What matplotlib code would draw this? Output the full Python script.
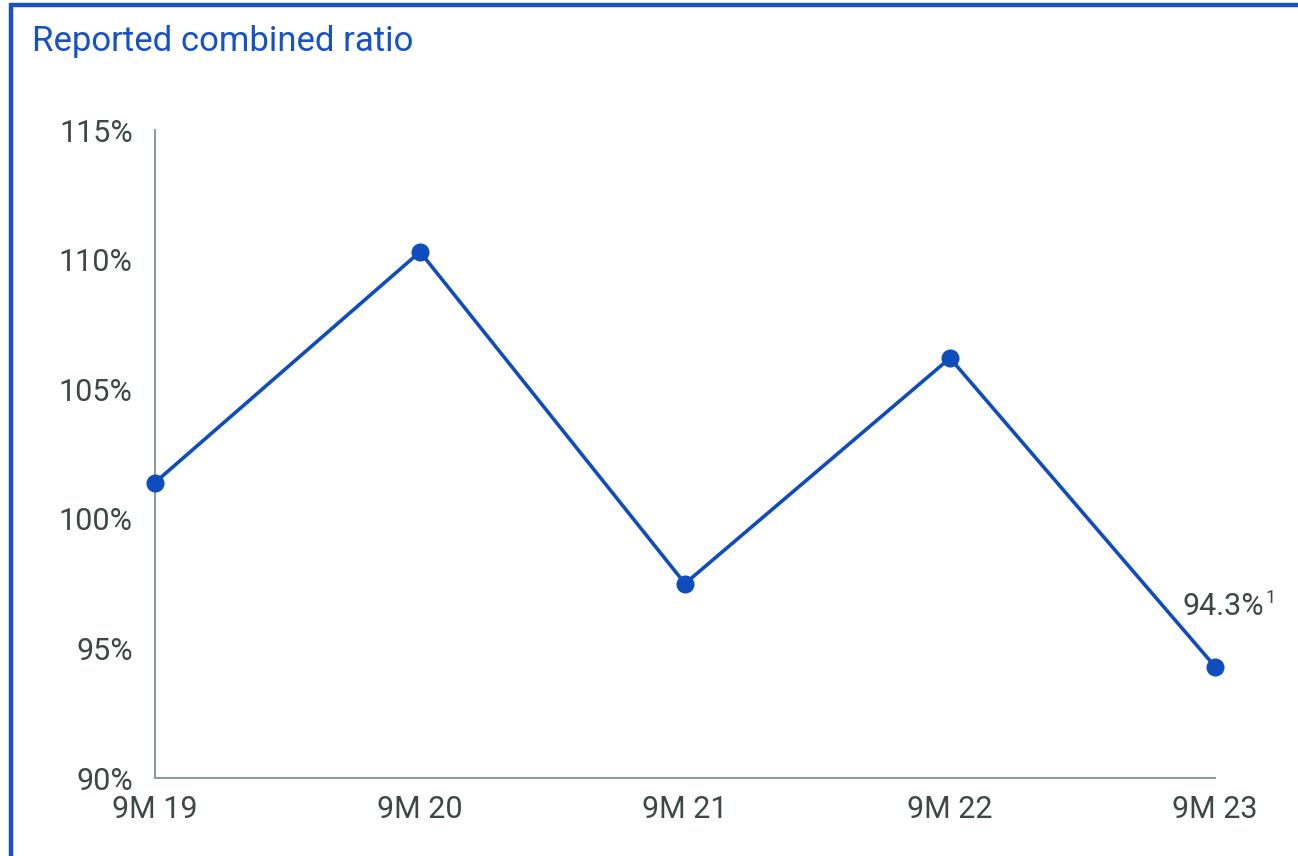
import matplotlib.pyplot as plt
from matplotlib.lines import Line2D

periods = ['9M 19', '9M 20', '9M 21', '9M 22', '9M 23']
combined_ratio = [101.4, 110.3, 97.5, 106.2, 94.3]
yticks = [90, 95, 100, 105, 110, 115]

blue = '#0f4dbc'
frame_blue = '#1752c4'
grey_text = '#3b4843'
axis_grey = '#8d9d98'

plt.rcParams['font.family'] = ['Roboto', 'DejaVu Sans']

fig = plt.figure(figsize=(12.98, 8.56), dpi=100)
ax = fig.add_axes([155 / 1298, 1 - 778 / 856, (1215 - 155) / 1298, (778 - 130) / 856])

x = list(range(len(periods)))
ax.plot(x, combined_ratio, color=blue, lw=2.6, marker='o', markersize=12,
        clip_on=False, zorder=3)

ax.set_xlim(0, len(periods) - 1)
ax.set_ylim(90, 115)
ax.set_xticks(x)
ax.set_xticklabels(periods)
ax.set_yticks(yticks)
ax.set_yticklabels([f'{v}%' for v in yticks])
ax.tick_params(axis='both', length=0, labelsize=22, labelcolor=grey_text)
ax.tick_params(axis='x', pad=12.5)
ax.tick_params(axis='y', pad=16)

for side in ['top', 'right']:
    ax.spines[side].set_visible(False)
for side in ['left', 'bottom']:
    ax.spines[side].set_color(axis_grey)
    ax.spines[side].set_linewidth(1.5)

# label on the latest value, footnote mark drawn smaller
ax.annotate(f'{combined_ratio[-1]}%', (x[-1], combined_ratio[-1]),
            xytext=(6, 43), textcoords='offset points', ha='center', va='center',
            fontsize=22, color=grey_text)
ax.annotate('1', (x[-1], combined_ratio[-1]), xytext=(40, 49), textcoords='offset points',
            ha='center', va='center', fontsize=13, color=grey_text)

fig.text(32 / 1298, 1 - 42 / 856, 'Reported combined ratio', fontsize=25,
         color=frame_blue, va='center', ha='left')

# blue frame on top and left
fig.add_artist(Line2D([11 / 1298, 11 / 1298], [0, 1 - 3 / 856], transform=fig.transFigure,
                      color=frame_blue, lw=3.2, solid_capstyle='butt'))
fig.add_artist(Line2D([9.5 / 1298, 1], [1 - 5 / 856, 1 - 5 / 856], transform=fig.transFigure,
                      color=frame_blue, lw=3.2, solid_capstyle='butt'))

fig.savefig('out.png', dpi=100)
